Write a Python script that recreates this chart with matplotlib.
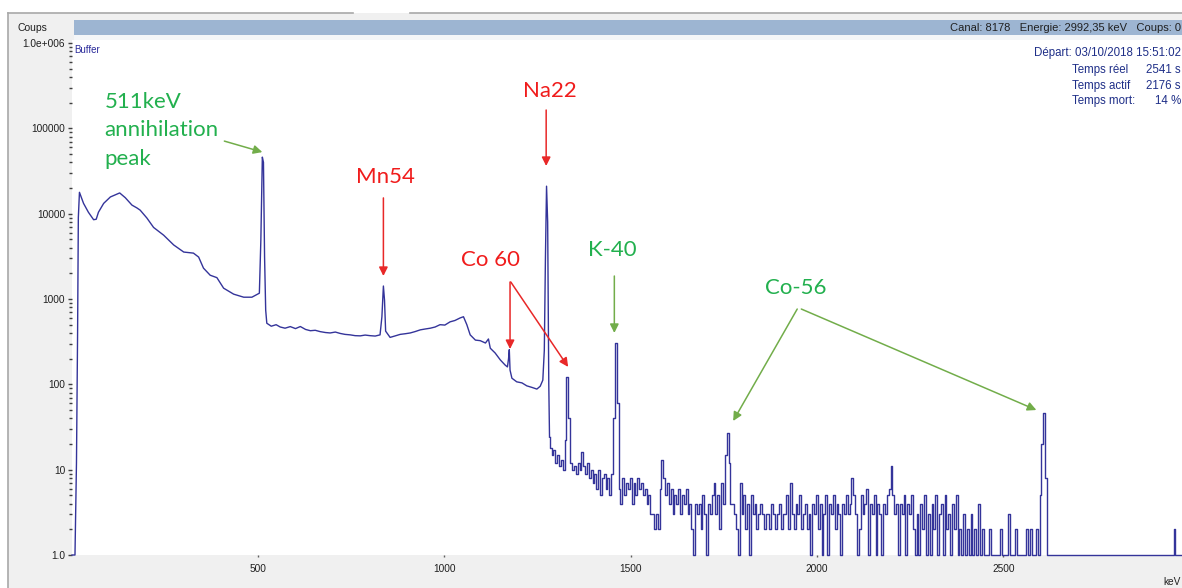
import matplotlib
matplotlib.use("Agg")
import matplotlib.pyplot as plt
from matplotlib.patches import Rectangle
from matplotlib.lines import Line2D
import numpy as np

plt.rcParams['font.family'] = ['Liberation Sans', 'DejaVu Sans']

# ---------------- data ----------------
# smooth part of the spectrum: energy (keV) / counts
cont_energy = [0, 8, 12, 15, 17, 20, 31, 44, 58, 65, 71, 85, 103, 128, 143, 161, 174,
               183, 201, 219, 246, 273, 300, 326, 340, 353, 371, 389, 407, 434, 461, 483,
               503, 507, 511, 514, 517, 520, 523, 535, 548, 559, 572, 586, 600, 613, 627,
               640, 653, 666, 680, 693, 707, 720, 733, 747, 760, 774, 787, 800, 814, 827,
               832, 836, 839, 842, 854, 868, 881, 895, 908, 921, 935, 948, 962, 975, 988,
               1001, 1015, 1028, 1042, 1051, 1060, 1069, 1083, 1096, 1110, 1118, 1123,
               1136, 1150, 1163, 1169, 1172, 1174, 1176, 1181, 1194, 1208, 1221, 1235,
               1248, 1257, 1264, 1268, 1271, 1274, 1277, 1280, 1282]
cont_counts = [1, 1, 12, 400, 9000, 17800, 13200, 10400, 8500, 8600, 10400, 13200, 15700,
               17500, 15400, 12600, 11700, 11000, 8900, 6900, 5600, 4300, 3550, 3450, 3100,
               2300, 1900, 1780, 1340, 1140, 1050, 1050, 1170, 4900, 46000, 40000, 3100,
               740, 520, 480, 500, 470, 455, 475, 450, 476, 440, 425, 430, 415, 405, 400,
               410, 395, 385, 380, 372, 370, 378, 372, 368, 380, 620, 1420, 970, 420, 355,
               370, 385, 392, 400, 415, 435, 445, 455, 470, 500, 495, 540, 560, 600, 620,
               500, 380, 330, 325, 305, 340, 265, 233, 193, 168, 160, 200, 255, 147, 118,
               107, 104, 96, 92, 88, 95, 112, 250, 3000, 21000, 8000, 100, 24]

# noisy high-energy part: channels of 5 keV starting at 1285 keV
noise_start_kev = 1285
noise_step_kev = 5
noise_counts = [
    18, 15, 17, 12, 15, 11, 13, 10, 22, 122, 40, 12, 10, 11, 9, 12, 10, 16, 11, 9,      # 1285-1380
    12, 8, 10, 7, 9, 6, 10, 5, 8, 9, 6, 8, 5, 9, 40, 305, 60, 6, 4, 8,                   # 1385-1480
    5, 7, 6, 8, 4, 7, 5, 8, 6, 7, 5, 6, 4, 5, 3, 3, 2, 3, 2, 6,                          # 1485-1580
    13, 8, 5, 7, 4, 6, 3, 5, 4, 6, 3, 5, 4, 6, 3, 4, 2, 1, 4, 3,                         # 1585-1680
    4, 2, 5, 3, 1, 4, 3, 5, 7, 3, 5, 2, 7, 4, 15, 27, 12, 4, 4, 3,                       # 1685-1780
    2, 1, 7, 3, 5, 2, 4, 1, 5, 3, 4, 2, 3, 4, 3, 2, 3, 3, 2, 4,                          # 1785-1880
    3, 2, 3, 4, 2, 3, 3, 5, 2, 7, 3, 2, 4, 3, 5, 2, 3, 4, 2, 3,                          # 1885-1980
    1, 4, 3, 5, 2, 4, 1, 3, 5, 1, 4, 3, 5, 2, 4, 3, 1, 4, 3, 5,                          # 1985-2080
    3, 4, 8, 5, 3, 1, 2, 5, 3, 4, 6, 1, 4, 3, 5, 1, 4, 3, 1, 4,                          # 2085-2180
    3, 5, 6, 11, 5, 3, 4, 1, 4, 3, 5, 1, 4, 3, 5, 2, 1, 3, 1, 4,                         # 2185-2280
    2, 5, 1, 3, 1, 4, 2, 5, 1, 3, 4, 1, 5, 2, 3, 1, 4, 2, 5, 1,                          # 2285-2380
    2, 1, 3, 1, 2, 1, 3, 1, 2, 1, 4, 1, 2, 1, 1, 1, 2, 1, 1, 1,                          # 2385-2480
    1, 1, 2, 1, 1, 1, 3, 1, 1, 1, 2, 1, 1, 1, 1, 1, 2, 1, 2, 1,                          # 2485-2580
    1, 2, 1, 5, 20, 46, 8, 1, 1, 1, 1, 1, 1, 1, 1, 1, 1, 1, 1, 1,                        # 2585-2680
    1, 1, 1, 1, 1, 1, 1, 1, 1, 1, 1, 1, 1, 1, 1, 1, 1, 1, 1, 1,                          # 2685-2780
    1, 1, 1, 1, 1, 1, 1, 1, 1, 1, 1, 1, 1, 1, 1, 1, 1, 1, 1, 1,                          # 2785-2880
    1, 1, 1, 1, 1, 1, 1, 1, 1, 1, 1, 1, 1, 1, 1, 2, 1, 1, 1, 1,                          # 2885-2980
]

x_ticks = [500, 1000, 1500, 2000, 2500]
y_ticks = [1, 10, 100, 1000, 10000, 100000, 1000000]
y_tick_labels = ['1.0', '10', '100', '1000', '10000', '100000', '1.0e+006']

# annotations: (label, text position (keV, counts), arrow starts, arrow tips, colour)
annotations = [
    ("511keV\nannihilation\npeak", (87, 270000), [(409, 70900)], [(511, 52700)], 'green'),
    ("Mn54", (841, 27000), [(836, 15300)], [(836, 1860)], 'red'),
    ("Na22", (1284, 275000), [(1273, 164000)], [(1273, 36200)], 'red'),
    ("Co 60", (1123, 2850), [(1176, 1582), (1178, 1582)], [(1176, 259), (1332, 160)], 'red'),
    ("K-40", (1450, 3750), [(1456, 1860)], [(1456, 400)], 'green'),
    ("Co-56", (1944, 1350), [(1947, 763), (1958, 763)], [(1775, 37.2), (2589, 50)], 'green'),
]

# ---------------- figure ----------------
W, H = 1182, 588
fig = plt.figure(figsize=(W / 100, H / 100), dpi=100)
fig.patch.set_facecolor('white')

def fx(x):
    return x / W

def fy(y):
    return 1 - y / H

# gray window background
fig.add_artist(Rectangle((fx(8), 0), fx(W - 8), fy(13), transform=fig.transFigure,
                         facecolor='#f0f0f0', edgecolor='none', zorder=0))
fig.add_artist(Line2D([fx(8), fx(8)], [fy(13), 0], transform=fig.transFigure,
                      color='#a8a8a8', lw=1.2))
fig.add_artist(Line2D([fx(8), fx(353)], [fy(13), fy(13)], transform=fig.transFigure,
                      color='#a8a8a8', lw=1.2))
fig.add_artist(Line2D([fx(410), fx(W)], [fy(13), fy(13)], transform=fig.transFigure,
                      color='#a8a8a8', lw=1.2))
# header bar
fig.add_artist(Rectangle((fx(74), fy(35)), fx(W - 74), (35 - 20) / H, transform=fig.transFigure,
                         facecolor='#9db5d2', edgecolor='none', zorder=1))
fig.add_artist(Rectangle((fx(74), fy(40)), fx(W - 74), 5 / H, transform=fig.transFigure,
                         facecolor='#f4f6f8', edgecolor='none', zorder=1))
fig.text(fx(1181), fy(28), "Canal: 8178   Energie: 2992,35 keV   Coups: 0", ha='right',
         va='center', fontsize=8, color='#202020')
fig.text(fx(17), fy(28), "Coups", ha='left', va='center', fontsize=7.5, color='#202020')

# plot area
ax = fig.add_axes([fx(72), fy(555), fx(W - 72), (555 - 40) / H])
ax.set_facecolor('white')
ax.set_yscale('log')
ax.set_xlim(0, 2980)
ax.set_ylim(1, 10 ** ((555 - 40) / 85.33))
for s in ax.spines.values():
    s.set_visible(False)

line_color = '#34349a'
ax.plot(cont_energy, cont_counts, color=line_color, lw=1.0, clip_on=False, zorder=3)
noise_energy = [noise_start_kev + noise_step_kev * i for i in range(len(noise_counts))]
ax.plot([cont_energy[-1]] + noise_energy, [cont_counts[-1]] + noise_counts, color=line_color,
        lw=1.0, drawstyle='steps-mid', clip_on=False, zorder=3)

ax.set_yticks(y_ticks)
ax.set_yticklabels(y_tick_labels)
ax.yaxis.set_minor_locator(matplotlib.ticker.LogLocator(base=10, subs=np.arange(2, 10)))
ax.yaxis.set_minor_formatter(matplotlib.ticker.NullFormatter())
ax.tick_params(axis='y', which='major', length=3, width=1, color='#404040', pad=2,
               labelsize=7.3, labelcolor='#202020')
ax.tick_params(axis='y', which='minor', length=2, width=1, color='#404040')
ax.set_xticks(x_ticks)
ax.set_xticklabels([str(t) for t in x_ticks])
ax.tick_params(axis='x', which='major', length=1.5, width=1, color='#606060', pad=5,
               labelsize=7.3, labelcolor='#202020')
ax.tick_params(axis='x', which='minor', length=0)

fig.text(fx(1181), fy(582), "keV", ha='right', va='center', fontsize=7.3, color='#202020')
ax.text(0.002, 0.99, "Buffer", transform=ax.transAxes, ha='left', va='top', fontsize=7,
        color='#2a2a9a')

# info block
info_color = '#1f2f88'
fig.text(fx(1181), fy(53), "Départ: 03/10/2018 15:51:02", ha='right', va='center',
         fontsize=8.3, color=info_color)
for yy, lab, val in [(70, "Temps réel", "2541 s"), (86, "Temps actif", "2176 s"),
                     (101, "Temps mort:", "14 %")]:
    fig.text(fx(1072), fy(yy), lab, ha='left', va='center', fontsize=8.3, color=info_color)
    fig.text(fx(1181), fy(yy), val, ha='right', va='center', fontsize=8.3, color=info_color)

# annotations
text_colors = {'green': '#22b04e', 'red': '#f01c1c'}
arrow_colors = {'green': '#72ad4a', 'red': '#e82828'}
for label, tpos, starts, tips, col in annotations:
    if '\n' in label:
        ax.text(tpos[0], tpos[1], label, ha='left', va='top', fontsize=16, family='Lato',
                color=text_colors[col], linespacing=1.55, zorder=5)
    else:
        ax.text(tpos[0], tpos[1], label, ha='center', va='center', fontsize=16, family='Lato',
                color=text_colors[col], zorder=5)
    for st, tp in zip(starts, tips):
        ax.annotate('', xy=tp, xytext=st,
                    arrowprops=dict(arrowstyle='-|>', color=arrow_colors[col], lw=1.1,
                                    mutation_scale=13, shrinkA=0, shrinkB=0), zorder=5)

fig.savefig('out.png', dpi=100)
